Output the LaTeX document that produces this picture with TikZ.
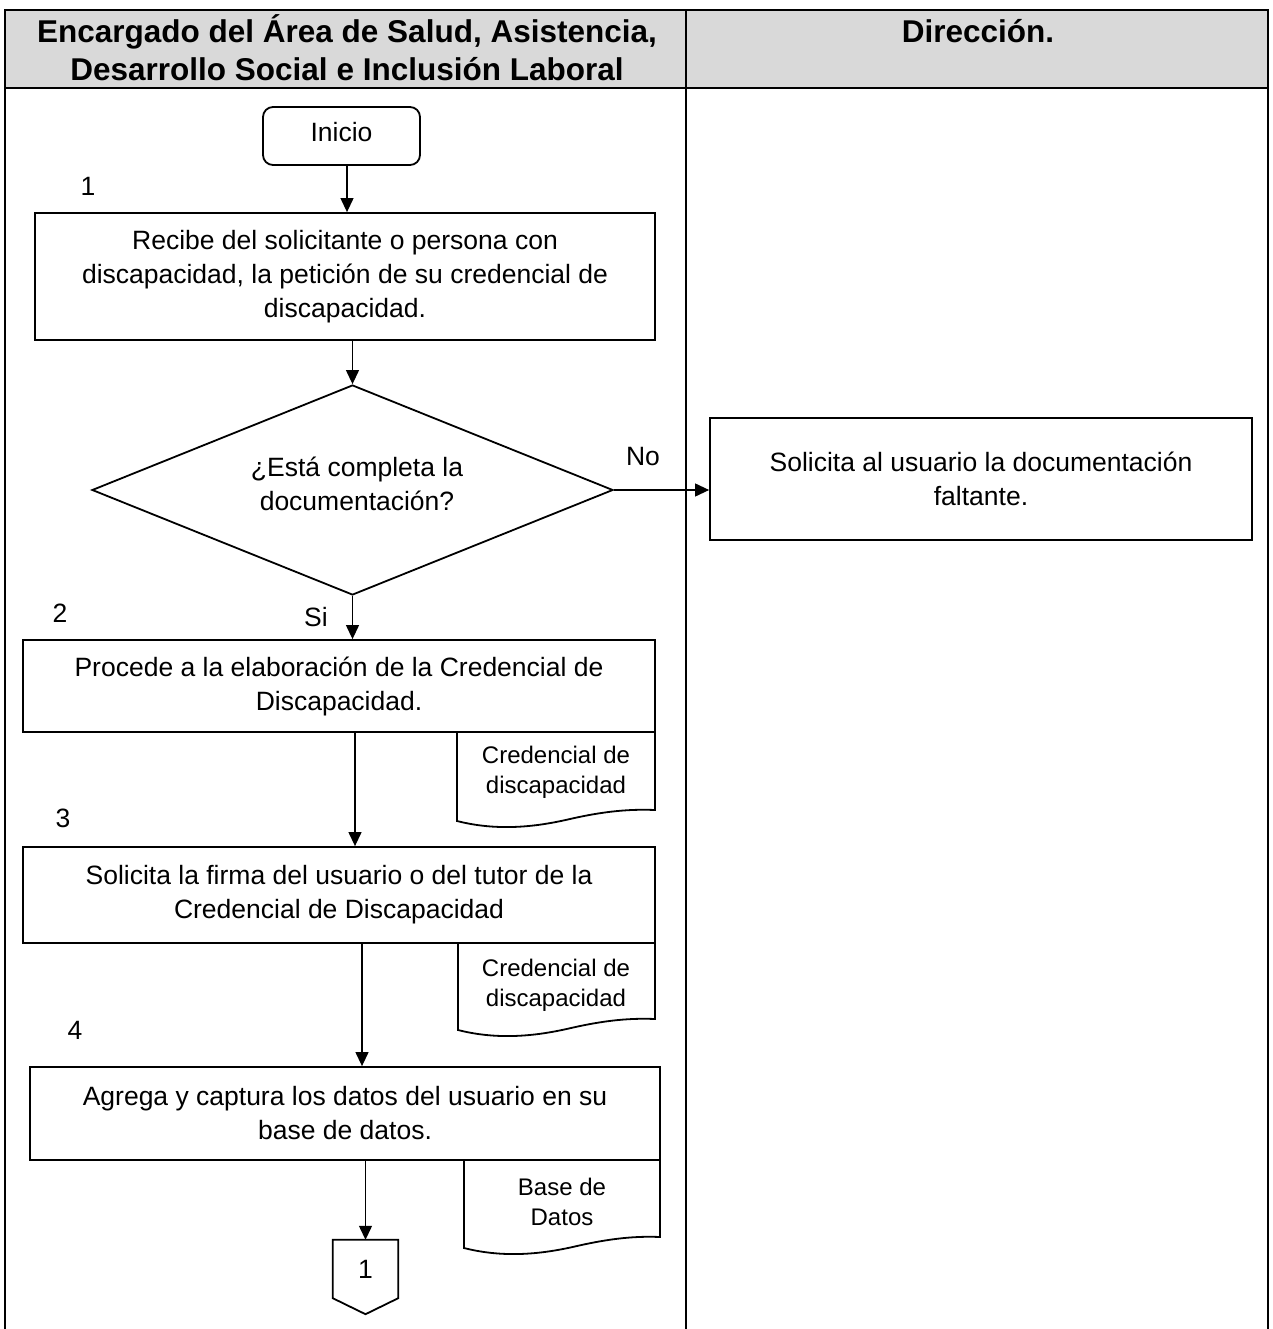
\documentclass[tikz,border=0pt]{standalone}
\usepackage{fontspec}
\setmainfont{Liberation Sans}
\usetikzlibrary{arrows.meta,shapes.geometric,calc}
\definecolor{hdrgray}{HTML}{D9D9D9}
\begin{document}
\begin{tikzpicture}[x=1pt,y=-1pt,
 txt/.style={font=\fontsize{26.5}{34}\selectfont, align=center, inner sep=0pt},
 small/.style={font=\fontsize{24}{30}\selectfont, align=center, inner sep=0pt},
 box/.style={draw, line width=1.8pt, txt},
 shp/.style={line width=1.8pt},
 arr/.style={line width=1.2pt, -{Triangle[length=14pt,width=13pt]}},
 hdr/.style={font=\fontsize{31.5}{38}\selectfont\bfseries, align=center, inner sep=0pt},
 grid/.style={line width=1.8pt}]
\useasboundingbox (0,0) rectangle (1272,1329);
% table
\fill[hdrgray] (5,10) rectangle (1268,88);
\draw[grid] (5,1329) -- (5,10) -- (1268,10) -- (1268,1329);
\draw[grid] (5,88) -- (1268,88);
\draw[grid] (686,10) -- (686,1329);
\node[hdr] (h1) at (347,47.5) {Encargado del Área de Salud, Asistencia,\\Desarrollo Social e Inclusión Laboral};
\node[hdr] (h2) at (978,31) {Dirección.};
% start
\node[draw, shp, rounded corners=10pt, minimum width=157pt, minimum height=58pt, txt] (ini) at (341.5,136) {};
\node[txt] (it) at (341.5,132) {Inicio};
\node[txt] (n1) at (88,186) {1};
\node[box, minimum width=620pt, minimum height=127pt] (b1) at (345,276.5) {Recibe del solicitante o persona con\\discapacidad, la petición de su credencial de\\discapacidad.};
% decision
\node[draw, diamond, shp, minimum width=521pt, minimum height=210pt, inner sep=0pt] (dia) at (352.5,490) {};
\node[txt] (dt) at (357,484) {¿Está completa la\\documentación?};
\node[box, minimum width=542pt, minimum height=122pt] (sol) at (981,479) {Solicita al usuario la documentación\\faltante.};
\node[txt] (no) at (643,457) {No};
\node[txt] (si) at (316,617) {Si};
\node[txt] (n2) at (60,613) {2};
\node[box, minimum width=632pt, minimum height=92pt] (b2) at (339,686) {Procede a la elaboración de la Credencial de\\Discapacidad.};
% doc 1
\node[small] (d1) at (556,772) {Credencial de\\discapacidad};
\draw[shp] (457,732) -- (457,821) .. controls (500,832) and (540,826) .. (570,819) .. controls (605,811) and (630,809) .. (655,810) -- (655,732);
\node[txt] (n3) at (63,818) {3};
\node[box, minimum width=632pt, minimum height=96pt] (b3) at (339,895) {Solicita la firma del usuario o del tutor de la\\Credencial de Discapacidad};
% doc 2
\node[small] (d2) at (556,985) {Credencial de\\discapacidad};
\draw[shp] (458,943) -- (458,1030) .. controls (501,1041) and (541,1035) .. (571,1028) .. controls (606,1020) and (631,1018) .. (655,1019) -- (655,943);
\node[txt] (n4) at (75,1030) {4};
\node[box, minimum width=630pt, minimum height=93pt] (b4) at (345,1113.5) {Agrega y captura los datos del usuario en su\\base de datos.};
% doc 3
\node[small] (d3) at (562,1202) {Base de\\Datos};
\draw[shp] (464,1160) -- (464,1248) .. controls (507,1259) and (547,1253) .. (577,1246) .. controls (612,1238) and (637,1236) .. (660,1237) -- (660,1160);
% off-page connector
\node[txt, minimum width=65pt, minimum height=58pt] (c1) at (365.5,1269) {1};
\draw[shp] (c1.north west) -- (c1.south west) -- ($(c1.south)+(0,16)$) -- (c1.south east) -- (c1.north east) -- cycle;
% arrows
\draw[arr] ([xshift=5.5pt]ini.south) -- ([xshift=5.5pt]ini.south |- b1.north);
\draw[arr] (dia.north |- b1.south) -- (dia.north);
\draw[arr] (dia.east) -- (dia.east -| sol.west);
\draw[arr] (dia.south) -- (dia.south |- b2.north);
\draw[arr] ([xshift=16pt]b2.south) -- ([xshift=16pt]b2.south |- b3.north);
\draw[arr] ([xshift=23pt]b3.south) -- ([xshift=23pt]b3.south |- b4.north);
\draw[arr] (c1.north |- b4.south) -- (c1.north);
\end{tikzpicture}
\end{document}
